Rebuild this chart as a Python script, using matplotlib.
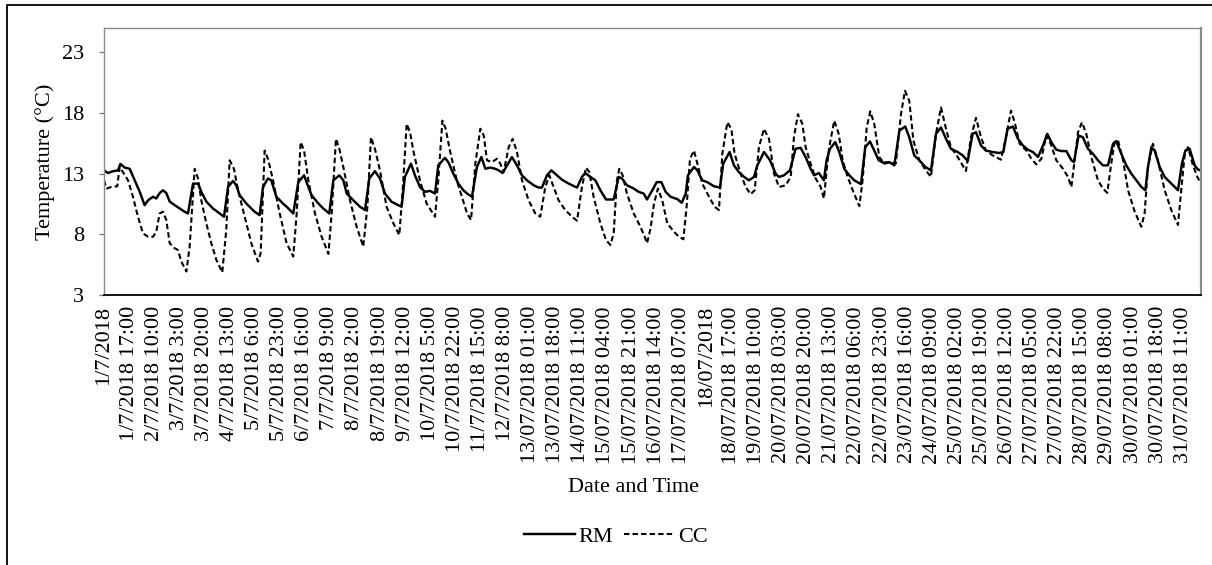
import matplotlib
matplotlib.use("Agg")
import matplotlib.pyplot as plt
from matplotlib.lines import Line2D

# ---------------- data (hour index from 1/7/2018 00:00, temperature °C) ----------------
rm_hours = [0, 2.7, 6.1, 9.5, 11.1, 14, 17.4, 20.8, 24.2, 27.5, 29.8, 33.2, 35.4, 37.7, 40, 42.2, 44.5, 47.9, 51.2, 54.6,
            56.9, 60.3, 63.7, 65.9, 69.3, 73.8, 78.3, 81.3, 84, 87.4, 89.6, 91.9, 96.4, 102, 105.4, 107.7, 111, 113.3, 116.7, 121.2,
            123.7, 128.2, 131.6, 135.5, 138.4, 140.6, 145.2, 148.5, 152.6, 155.3, 159.4, 162.1, 164.4, 168.9, 173.4, 176.8, 179.7, 183.5, 186.9, 190.3,
            194.8, 199.3, 201.6, 203.8, 207.9, 210.6, 214, 217.4, 220.8, 224.2, 226.4, 230.9, 233.2, 236.6, 240, 243.4,
            245.9, 249.2, 252.6, 255.6, 258.3, 261.7, 265, 267.3, 270, 273, 276.3, 279.7, 283.1, 286.5, 291, 294.4, 296.6, 300, 303, 306.8,
            310.2, 314.7, 320.4, 323.7, 326, 329.4, 332.8, 336.2, 340, 345.2, 348.6, 350.8, 354.2, 358.8, 362.1, 365.5, 367.8,
            371.4, 374.3, 377.5, 380.4, 383.8, 388.3, 391.3, 394, 395.5, 399.6, 401.9, 405.2, 408.6, 413.1, 417.2, 419.4, 423.7, 426.7, 430, 433.5,
            436.8, 440.2, 442.5, 447, 451.1, 454.9, 457.1, 460.5, 464.6, 468.4, 471.8, 475.2, 478.6, 480.9, 484.2, 487.6, 489.4,
            491.7, 495.3, 498, 501.4, 504.8, 508.2, 512.7, 515.6, 518.8, 521.7, 524.7, 527.8, 531.9, 535.3, 538.7, 542.7, 545.4, 548.8, 552.2, 556.3,
            560.1, 563.5, 566.9, 570.3, 573.6, 578.2, 581.6, 585, 588.3, 590.6, 594, 597.3, 601.9, 606.4, 609.1, 612,
            615.6, 619, 622.4, 625.8, 629.2, 632.6, 636, 638.9, 641.6, 645, 648.4, 651.8, 655.2, 657, 660.1, 663, 666.4, 669.8, 673.2, 676.6,
            680, 683.4, 685.6, 689, 692.4, 695.8, 699.2, 702.6, 705.3, 707.1, 709.4, 711.6, 715, 718.4, 722.9, 727.4, 730.1, 732.4, 735.3, 738.7,
            741, 743]
rm_temps = [13.27, 13.05, 13.2, 13.27, 13.8, 13.5, 13.4, 12.45, 11.5, 10.4, 10.8, 11.1, 10.95, 11.4, 11.63, 11.4, 10.7, 10.4, 10.13, 9.86,
            9.72, 12.18, 12.18, 11.5, 10.7, 10.13, 9.72, 9.45, 11.9, 12.4, 12.04, 11.22, 10.54, 9.86, 9.58, 11.9, 12.6, 12.45, 11.1, 10.54,
            10.27, 9.72, 12.3, 12.86, 11.9, 11.22, 10.54, 10.13, 9.72, 12.45, 12.86, 12.45, 11.36, 10.8, 10.27, 10.0, 12.6, 13.2, 12.6, 11.36,
            10.68, 10.4, 10.27, 12.73, 13.82, 12.86, 11.9, 11.5, 11.58, 11.36, 13.68, 14.3, 13.95, 13.0, 12.18, 11.63,
            11.36, 11.09, 13.55, 14.37, 13.4, 13.5, 13.4, 13.27, 13.05, 13.68, 14.37, 13.68, 12.86, 12.45, 12.04, 11.85, 11.85, 12.86, 13.27, 12.86,
            12.5, 12.18, 11.85, 12.73, 13.05, 12.73, 12.45, 11.63, 10.87, 10.87, 12.73, 12.6, 12.04, 11.77, 11.5, 11.36, 10.87,
            11.63, 12.3, 12.3, 11.5, 11.09, 10.9, 10.6, 11.36, 12.86, 13.55, 13.27, 12.45, 12.3, 11.96, 11.85, 13.82, 14.78, 13.68, 13.13, 12.73,
            12.45, 12.73, 13.68, 14.78, 14.1, 13.0, 12.73, 12.86, 13.27, 15.05, 15.13, 14.37, 13.4, 12.86, 13.05, 12.45, 14.1,
            15.05, 15.6, 14.78, 13.4, 12.86, 12.45, 12.13, 15.18, 15.65, 14.9, 14.1, 13.9, 13.95, 13.68, 16.55, 16.88, 16.0, 14.5, 14.1, 13.55,
            13.27, 16.28, 16.8, 15.87, 15.05, 14.78, 14.5, 14.04, 16.28, 16.41, 15.32, 14.9, 14.78, 14.7, 14.78, 16.7,
            16.88, 15.87, 15.32, 14.97, 14.78, 14.37, 15.32, 16.28, 15.6, 14.97, 14.86, 14.86, 14.1, 13.95, 16.14, 16.0, 15.05, 14.64, 14.1, 13.68,
            13.68, 15.46, 15.68, 14.64, 13.68, 13.0, 12.45, 11.9, 11.63, 13.55, 15.18, 14.9, 13.55, 12.73, 12.18, 11.63, 13.82, 14.9, 15.05, 13.68,
            13.33, 13.27]

cc_hours = [0, 1.6, 5, 9, 10.6, 12.9, 16.3, 19.6, 23, 26.4, 29.8, 33.2, 35.4, 37.7, 40, 42.2, 44.5, 47.9, 50.1, 52.4,
            55.8, 58, 61.4, 63.7, 65.9, 69.3, 72.7, 76.1, 80.1, 82.8, 85.1, 88, 90.8, 95.3, 99.8, 104.3, 106.1, 108.8, 111.1, 114.5, 119,
            123.7, 128.2, 130.5, 133.2, 135.5, 138.4, 142.9, 147.4, 152, 154.2, 157.1, 159.4, 162.1, 166.6, 171.1, 175.6, 178.4, 180.8, 183.5, 186.9,
            191.4, 196, 200, 202.3, 205, 207.3, 209.5, 214, 218.5, 224.2, 226.4, 229.2, 231.4, 234.3, 238.9, 243.4,
            245.9, 248.6, 251.5, 254.9, 257.2, 259.4, 262.8, 266.2, 268.4, 270.7, 274.1, 276.8, 279.7, 283.1, 287.6, 292.1, 295.5, 298.9, 301.6, 304.5,
            307.9, 312.4, 317, 320.4, 323.7, 326.5, 328.7, 331.6, 336.2, 340, 343, 345.2, 347.4, 349, 351.3, 354.2, 358.8, 363.3, 366.2, 367.8,
            370.2, 372.5, 375.2, 378.1, 381.5, 386, 389.4, 392.4, 394.6, 396.9, 399.6, 401.9, 405.2, 409.8, 413.6, 416.5, 418.8, 422.2, 424.9, 427.1,
            431.2, 434.6, 438, 440.7, 443.6, 447, 450.4, 453.8, 457.2, 461.7, 465.1, 467.3, 470, 473, 475.2, 478.6, 482, 485.4, 487.6, 489.9,
            491.2, 494.6, 497.6, 500.3, 503.7, 507.1, 511.6, 513.8, 516.6, 519, 521.7, 525.1, 528.5, 533, 536.3, 539.8, 542.5, 545.4, 548.2, 552.2,
            556.7, 560.1, 563.5, 566.9, 570.3, 573.6, 578.2, 583.8, 587.2, 590.6, 594, 597.3, 601.9, 607.5, 610.9, 614.3,
            616.8, 620.2, 624.7, 628.1, 631.4, 634.9, 638.2, 641.2, 645, 649.5, 652.9, 655.2, 657.4, 659.7, 662.4, 665.3, 668.7, 673.2, 676.6, 679.5,
            682.2, 684.5, 686.8, 690.2, 693.6, 698.1, 702.6, 704.8, 707.1, 710.4, 713.8, 718.4, 722.9, 727.4, 729.6, 731.9, 734.2, 737.6, 740.5, 743]
cc_temps = [12.45, 11.77, 11.9, 11.96, 13.55, 13.1, 12.45, 11.1, 9.45, 8.08, 7.8, 7.8, 8.2, 9.72, 9.86, 9.18, 7.26, 6.85, 6.7, 5.75,
            4.94, 6.98, 13.4, 12.6, 10.8, 8.9, 7.26, 5.9, 4.86, 8.36, 14.1, 13.4, 11.63, 9.45, 7.26, 5.76, 6.44, 14.9, 14.2, 12.45, 9.72,
            7.26, 6.17, 9.72, 15.6, 14.9, 12.45, 9.72, 7.8, 6.39, 9.72, 15.87, 15.05, 13.55, 10.8, 8.63, 6.99, 10.27, 16.0, 15.05, 13.27,
            10.27, 8.9, 7.94, 11.63, 17.1, 16.4, 14.9, 12.45, 10.54, 9.45, 12.45, 17.37, 16.7, 14.9, 12.45, 10.68,
            9.72, 9.18, 13.82, 16.7, 16.14, 14.1, 13.95, 14.23, 13.82, 13.13, 15.18, 15.87, 14.78, 12.45, 10.8, 9.72, 9.45, 11.9, 12.86, 11.9,
            10.8, 10.0, 9.45, 9.12, 11.9, 13.5, 13.13, 11.09, 8.9, 7.53, 7.12, 8.08, 12.45, 13.4, 12.86, 11.36, 9.72, 8.63, 7.8, 7.26,
            8.5, 10.54, 11.77, 10.8, 8.9, 8.22, 7.8, 7.59, 10.27, 14.23, 14.9, 13.82, 12.18, 11.09, 10.27, 10.0, 14.64, 17.23, 16.69, 14.64,
            13.0, 11.9, 11.3, 11.63, 15.18, 16.69, 15.87, 13.0, 11.9, 12.04, 12.73, 16.0, 17.9, 17.1, 15.18, 13.82, 12.6, 11.9, 10.95, 13.82,
            15.18, 17.37, 16.28, 14.1, 12.73, 11.63, 10.32, 12.45, 16.82, 18.13, 17.1, 14.37, 13.82, 13.95, 13.82, 17.92, 19.83, 19.0, 15.73, 14.1,
            13.27, 12.73, 16.28, 18.46, 16.69, 15.18, 14.37, 13.22, 16.0, 17.6, 16.0, 14.9, 14.5, 14.15, 16.0, 18.19,
            17.23, 15.46, 14.9, 14.23, 13.76, 14.23, 16.14, 15.46, 14.1, 13.41, 12.73, 11.9, 14.1, 16.41, 17.23, 16.28, 14.37, 12.45, 11.77, 11.42,
            13.82, 15.6, 15.73, 14.1, 11.63, 9.86, 8.63, 9.72, 13.55, 15.46, 14.1, 11.63, 9.99, 8.77, 11.63, 14.5, 15.18, 13.68, 12.73, 12.18]

x_labels = ["1/7/2018", "1/7/2018 17:00", "2/7/2018 10:00", "3/7/2018 3:00", "3/7/2018 20:00", "4/7/2018 13:00",
            "5/7/2018 6:00", "5/7/2018 23:00", "6/7/2018 16:00", "7/7/2018 9:00", "8/7/2018 2:00", "8/7/2018 19:00",
            "9/7/2018 12:00", "10/7/2018 5:00", "10/7/2018 22:00", "11/7/2018 15:00", "12/7/2018 8:00",
            "13/07/2018 01:00", "13/07/2018 18:00", "14/07/2018 11:00", "15/07/2018 04:00", "15/07/2018 21:00",
            "16/07/2018 14:00", "17/07/2018 07:00", "18/07/2018", "18/07/2018 17:00", "19/07/2018 10:00",
            "20/07/2018 03:00", "20/07/2018 20:00", "21/07/2018 13:00", "22/07/2018 06:00", "22/07/2018 23:00",
            "23/07/2018 16:00", "24/07/2018 09:00", "25/07/2018 02:00", "25/07/2018 19:00", "26/07/2018 12:00",
            "27/07/2018 05:00", "27/07/2018 22:00", "28/07/2018 15:00", "29/07/2018 08:00", "30/07/2018 01:00",
            "30/07/2018 18:00", "31/07/2018 11:00"]
label_every_hours = 17
last_hour = 743
y_ticks = [3, 8, 13, 18, 23]
y_range = (3, 25)
series_names = ["RM", "CC"]

# ---------------- drawing ----------------
plt.rcParams['font.family'] = ['Liberation Serif', 'DejaVu Serif']

W, H = 1212, 565
fig = plt.figure(figsize=(W / 100, H / 100), dpi=100)
ax = fig.add_axes([104 / W, 1 - 295 / H, (1201 - 104) / W, (295 - 28) / H])

dash = (0, (2.6, 1.5))
ax.plot(rm_hours, rm_temps, color='black', lw=1.75, solid_joinstyle='round')
ax.plot(cc_hours, cc_temps, color='black', lw=1.5, linestyle=dash)

ax.set_xlim(0, last_hour)
ax.set_ylim(*y_range)
ax.set_yticks(y_ticks)
ax.set_xticks([i * label_every_hours for i in range(len(x_labels))])
ax.set_xticklabels(x_labels, rotation=90)

ax.tick_params(axis='y', length=3.5, width=0.9, color='#777777', pad=11, labelsize=16)
ax.tick_params(axis='x', length=0, pad=8, labelsize=16)

for side in ('left', 'top', 'right'):
    ax.spines[side].set_color('#8a8a8a')
    ax.spines[side].set_linewidth(1.0)
ax.spines['right'].set_linewidth(1.6)
ax.spines['bottom'].set_color('black')
ax.spines['bottom'].set_linewidth(1.3)

fig.text(45 / W, 1 - 161.5 / H, "Temperature (°C)", rotation=90, ha='center', va='center', fontsize=16)
fig.text(634 / W, 1 - 487 / H, "Date and Time", ha='center', va='center', fontsize=16)

handles = [Line2D([], [], color='black', lw=1.75),
           Line2D([], [], color='black', lw=1.5, linestyle=dash)]
fig.legend(handles, series_names, loc='center', bbox_to_anchor=(616 / W, 1 - 537 / H), ncol=2,
           frameon=False, fontsize=16, handlelength=2.3, handletextpad=0.15, columnspacing=0.5)

# outer chart border (visible left and top edges)
fig.add_artist(Line2D([7 / W, 7 / W, 1.0], [0.0, 1 - 5 / H, 1 - 5 / H], transform=fig.transFigure,
                      color='black', lw=1.3))

fig.savefig("out.png", dpi=100)
